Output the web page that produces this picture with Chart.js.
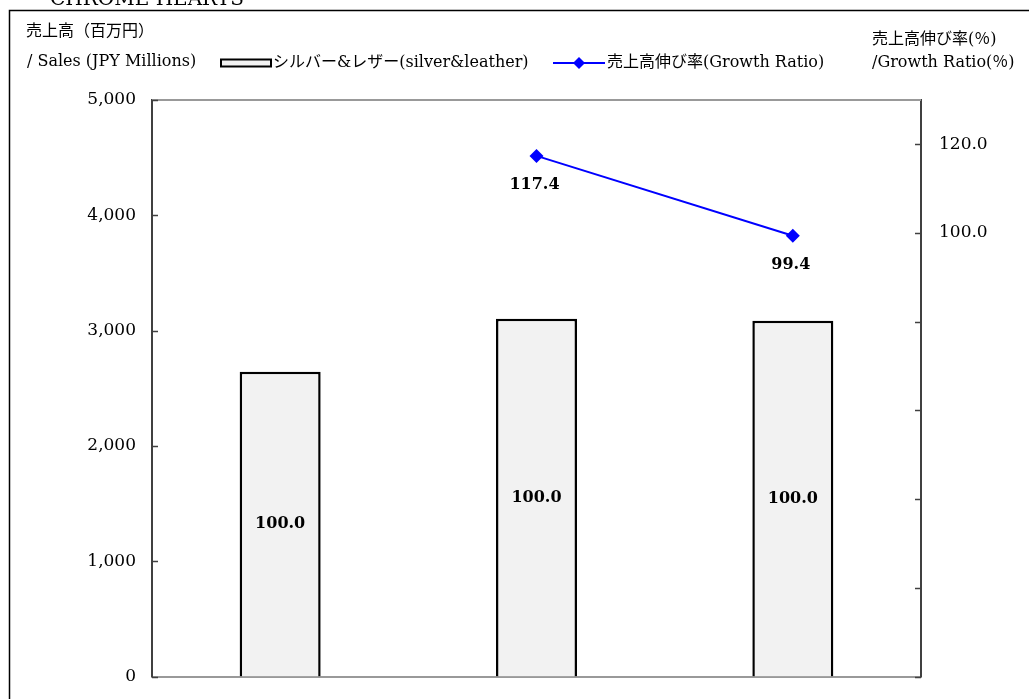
<!DOCTYPE html>
<html>
<head>
<meta charset="utf-8">
<script src="https://cdn.jsdelivr.net/npm/chart.js@4/dist/chart.umd.min.js"></script>
<style>
html,body{margin:0;padding:0;background:#fff;}
#wrap{width:1029px;height:699px;position:relative;}
</style>
</head>
<body>
<div id="wrap"><canvas id="c" width="1029" height="699"></canvas></div>
<script>
// ---- data ----
const categories = ['FY1', 'FY2', 'FY3'];
const salesSilverLeather = [2643, 3103, 3085];
const growthRatio = [null, 117.4, 99.4];
const barLabels = ['100.0', '100.0', '100.0'];
const leftTicks = [0, 1000, 2000, 3000, 4000, 5000];
const rightTicks = [0, 20, 40, 60, 80, 100, 120];
const rightLabeled = [100, 120];
const seriesNames = ['シルバー&レザー(silver&leather)', '売上高伸び率(Growth Ratio)'];
const leftTitle = ['売上高（百万円）', '/ Sales (JPY Millions)'];
const rightTitle = ['売上高伸び率(％)', '/Growth Ratio(％)'];
const headerText = 'CHROME HEARTS';

const SERIF = '"DejaVu Serif", "Noto Sans CJK JP", serif';
const JP = '"DejaVu Serif", "Noto Sans CJK JP", sans-serif';

const decor = {
  id: 'decor',
  afterDraw(chart) {
    const ctx = chart.ctx;
    const a = chart.chartArea;
    const yL = chart.scales.y, yR = chart.scales.y1;
    ctx.save();
    // outer frame
    ctx.strokeStyle = '#000'; ctx.lineWidth = 1.5;
    ctx.strokeRect(9.5, 10.5, 1200, 900);
    // header (cut off)
    ctx.fillStyle = '#000';
    ctx.font = '20px ' + SERIF;
    ctx.textBaseline = 'alphabetic'; ctx.textAlign = 'left';
    ctx.fillText(headerText, 50, 5);
    // top border of plot
    ctx.strokeStyle = '#999'; ctx.lineWidth = 2;
    ctx.beginPath(); ctx.moveTo(a.left, a.top); ctx.lineTo(a.right, a.top); ctx.stroke();
    // inward tick marks
    ctx.strokeStyle = '#404040'; ctx.lineWidth = 1.5;
    leftTicks.forEach(v => {
      const p = Math.round(yL.getPixelForValue(v)) + 0.5;
      ctx.beginPath(); ctx.moveTo(a.left, p); ctx.lineTo(a.left + 6, p); ctx.stroke();
    });
    rightTicks.forEach(v => {
      const p = Math.round(yR.getPixelForValue(v)) + 0.5;
      ctx.beginPath(); ctx.moveTo(a.right, p); ctx.lineTo(a.right - 6, p); ctx.stroke();
    });
    // bar labels
    const barMeta = chart.getDatasetMeta(0);
    ctx.font = 'bold 16px ' + SERIF;
    ctx.textAlign = 'center'; ctx.textBaseline = 'middle';
    ctx.fillStyle = '#000';
    barMeta.data.forEach((bar, i) => {
      const cy = (bar.y + bar.base) / 2;
      ctx.fillText(barLabels[i], bar.x, cy);
    });
    // line labels
    const lineMeta = chart.getDatasetMeta(1);
    lineMeta.data.forEach((pt, i) => {
      if (growthRatio[i] == null) return;
      ctx.fillText(growthRatio[i].toFixed(1), pt.x - 2, pt.y + 29);
    });
    // axis titles
    ctx.textAlign = 'left'; ctx.textBaseline = 'middle';
    ctx.font = '16px ' + JP;
    ctx.fillText(leftTitle[0], 26, 32);
    ctx.fillText(leftTitle[1], 27, 62);
    ctx.fillText(rightTitle[0], 872, 40);
    ctx.fillText(rightTitle[1], 872, 63);
    // legend
    const ly = 63;
    ctx.fillStyle = '#f2f2f2'; ctx.strokeStyle = '#000'; ctx.lineWidth = 2;
    ctx.fillRect(221, ly - 3.5, 50, 7); ctx.strokeRect(221, ly - 3.5, 50, 7);
    ctx.fillStyle = '#000';
    ctx.fillText(seriesNames[0], 273, ly);
    ctx.strokeStyle = '#0000ff'; ctx.lineWidth = 2;
    ctx.beginPath(); ctx.moveTo(553, ly); ctx.lineTo(605, ly); ctx.stroke();
    ctx.fillStyle = '#0000ff';
    ctx.beginPath(); ctx.moveTo(579, ly - 6); ctx.lineTo(585, ly); ctx.lineTo(579, ly + 6); ctx.lineTo(573, ly); ctx.closePath(); ctx.fill();
    ctx.fillStyle = '#000';
    ctx.fillText(seriesNames[1], 607, ly);
    ctx.restore();
  }
};

new Chart(document.getElementById('c'), {
  data: {
    labels: categories,
    datasets: [
      {
        type: 'bar',
        label: seriesNames[0],
        data: salesSilverLeather,
        backgroundColor: '#f2f2f2',
        borderColor: '#000',
        borderWidth: 2.5,
        barPercentage: 0.316,
        categoryPercentage: 1,
        yAxisID: 'y',
        order: 2
      },
      {
        type: 'line',
        label: seriesNames[1],
        data: growthRatio,
        borderColor: '#0000ff',
        backgroundColor: '#0000ff',
        borderWidth: 2,
        pointStyle: 'rectRot',
        pointRadius: 7,
        pointBorderWidth: 0,
        tension: 0,
        yAxisID: 'y1',
        order: 1
      }
    ]
  },
  options: {
    responsive: false,
    animation: false,
    layout: { padding: { top: 100, left: 0, right: 0, bottom: 0 } },
    plugins: { legend: { display: false }, tooltip: { enabled: false } },
    scales: {
      x: {
        type: 'category',
        grid: { display: false },
        ticks: { display: false },
        border: { color: '#999', width: 2 },
        afterFit(s) { s.height = 22.5; }
      },
      y: {
        position: 'left',
        min: 0, max: 5000,
        afterBuildTicks(s) { s.ticks = leftTicks.map(v => ({ value: v })); },
        grid: { display: false },
        border: { color: '#404040', width: 2 },
        ticks: {
          color: '#000',
          font: { family: SERIF, size: 17 },
          padding: 8,
          callback: v => v.toLocaleString('en-US')
        },
        afterFit(s) { s.width = 152; }
      },
      y1: {
        position: 'right',
        min: 0, max: 130,
        afterBuildTicks(s) { s.ticks = rightTicks.map(v => ({ value: v })); },
        grid: { display: false },
        border: { color: '#404040', width: 2 },
        ticks: {
          color: '#000',
          font: { family: SERIF, size: 17 },
          padding: 10,
          callback: v => rightLabeled.includes(v) ? v.toFixed(1) : ''
        },
        afterFit(s) { s.width = 108; }
      }
    }
  },
  plugins: [decor]
});
</script>
</body>
</html>
